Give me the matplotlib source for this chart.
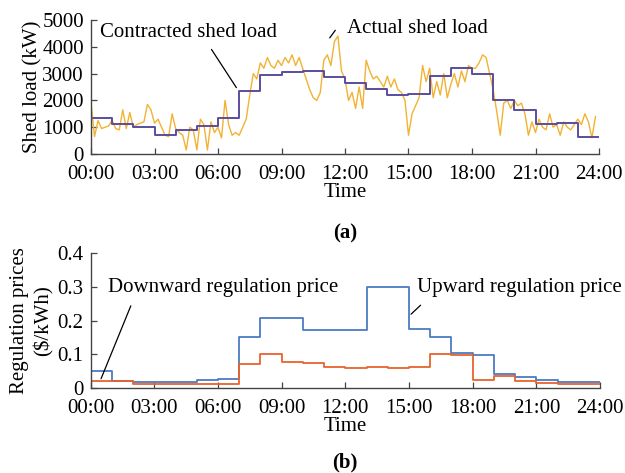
import matplotlib
matplotlib.use("Agg")
import matplotlib.pyplot as plt
import numpy as np

plt.rcParams["font.family"] = ["Liberation Serif", "DejaVu Serif"]

# ---------------------------------------------------------------------------
# Data
# ---------------------------------------------------------------------------
HOURS = list(range(25))
TICK_HOURS = [0, 3, 6, 9, 12, 15, 18, 21, 24]
TICK_LABELS = ["00:00", "03:00", "06:00", "09:00", "12:00",
               "15:00", "18:00", "21:00", "24:00"]

# hourly contracted shed load (kW)
contracted = [1330, 1120, 1000, 700, 880, 1060, 1330, 2360, 2960, 3060,
              3110, 2860, 2660, 2410, 2200, 2230, 2900, 3220, 3000, 2030,
              1650, 1120, 1170, 650]

# actual shed load, 10-minute samples (kW)
actual = [
    1900, 650, 1250, 950, 1000, 1050,
    1250, 950, 900, 1650, 950, 1550,
    1000, 1100, 1150, 1200, 1850, 1650,
    1150, 1300, 1000, 700, 650, 1500,
    950, 800, 700, 150, 1000, 900,
    150, 1300, 1100, 150, 1200, 800,
    1000, 600, 2000, 1100, 700, 800,
    700, 1000, 1300, 2200, 3000, 2800,
    3400, 3200, 3600, 3300, 3200, 3500,
    3300, 3600, 3400, 3700, 3300, 3600,
    3200, 2800, 2400, 2100, 2000, 2300,
    3500, 3700, 3300, 4200, 4400, 3100,
    2800, 2000, 2300, 1700, 2500, 1700,
    3500, 3100, 2800, 2900, 2700, 2500,
    2900, 2500, 2800, 2400, 2300, 2000,
    700, 1500, 1800, 2100, 3300, 2700,
    3200, 2100, 2700, 2200, 3000, 2100,
    2600, 3000, 2500, 3100, 2700, 3300,
    3200, 3200, 3400, 3700, 3600, 3000,
    2400, 1600, 700, 1900, 2000, 1700,
    2000, 1800, 1900, 1500, 700, 1200,
    800, 1300, 1000, 900, 1500, 1000,
    1100, 700, 1200, 1000, 900, 1100,
    1300, 1100, 1500, 1200, 600, 1400,
]
actual_t = np.arange(len(actual)) / 6.0

# hourly regulation prices ($/kWh)
upward = [0.05, 0.02, 0.019, 0.019, 0.019, 0.023, 0.027, 0.15, 0.207, 0.207,
          0.172, 0.172, 0.172, 0.30, 0.30, 0.174, 0.151, 0.104, 0.099, 0.042,
          0.032, 0.025, 0.019, 0.017]
downward = [0.02, 0.02, 0.012, 0.012, 0.012, 0.012, 0.013, 0.072, 0.10, 0.078,
            0.075, 0.062, 0.059, 0.062, 0.058, 0.063, 0.10, 0.097, 0.024, 0.037,
            0.022, 0.015, 0.013, 0.012]

C_PURPLE = "#5a4d9e"
C_YELLOW = "#f2b232"
C_BLUE = "#4b7bc4"
C_RED = "#e8622c"
FS = 15


def _style(ax):
    ax.spines["top"].set_visible(False)
    ax.spines["right"].set_visible(False)
    for s in ("left", "bottom"):
        ax.spines[s].set_color("#444444")
        ax.spines[s].set_linewidth(1.0)
    ax.tick_params(direction="in", length=4, width=0.9, colors="#444444",
                   labelcolor="black", labelsize=FS)
    ax.tick_params(axis="x", pad=8)
    ax.tick_params(axis="y", pad=5)
    ax.set_xlim(0, 24)
    ax.set_xticks(TICK_HOURS)
    ax.set_xticklabels(TICK_LABELS)


fig = plt.figure(figsize=(6.25, 4.73), dpi=100)
ax1 = fig.add_axes([0.1456, 0.6744, 0.8128, 0.2833])
ax2 = fig.add_axes([0.1451, 0.1797, 0.8149, 0.2854])

# --- (a) shed load ---------------------------------------------------------
ax1.plot(actual_t, actual, color=C_YELLOW, lw=1.0, zorder=2)
ax1.step(HOURS, contracted + [contracted[-1]], where="post",
         color=C_PURPLE, lw=1.4, zorder=3)
_style(ax1)
ax1.set_ylim(0, 5000)
ax1.set_yticks([0, 1000, 2000, 3000, 4000, 5000])
ax1.set_ylabel("Shed load (kW)", fontsize=FS, labelpad=0)
ax1.set_xlabel("Time", fontsize=FS, labelpad=-1)

ax1.annotate("", xy=(6.94, 2390), xytext=(5.62, 3990),
             arrowprops=dict(arrowstyle="-", color="black", lw=0.9))
ax1.text(0.43, 4520, "Contracted shed load", fontsize=FS, va="center", ha="left")
ax1.annotate("", xy=(11.2, 4250), xytext=(11.62, 4700),
             arrowprops=dict(arrowstyle="-", color="black", lw=0.9),
             annotation_clip=False)
ax1.text(12.09, 4700, "Actual shed load", fontsize=FS, va="center", ha="left",
         clip_on=False)

# --- (b) regulation prices ------------------------------------------------
ax2.step(HOURS, upward + [upward[-1]], where="post", color=C_BLUE, lw=1.3)
ax2.step(HOURS, downward + [downward[-1]], where="post", color=C_RED, lw=1.3)
_style(ax2)
ax2.set_ylim(0, 0.4)
ax2.set_yticks([0, 0.1, 0.2, 0.3, 0.4])
ax2.set_yticklabels(["0", "0.1", "0.2", "0.3", "0.4"])
ax2.set_ylabel("Regulation prices\n(\\$/kWh)", fontsize=FS, labelpad=3,
               linespacing=1.3)
ax2.set_xlabel("Time", fontsize=FS, labelpad=-1)

ax2.annotate("", xy=(0.44, 0.02), xytext=(1.94, 0.251),
             arrowprops=dict(arrowstyle="-", color="black", lw=0.9))
ax2.text(0.82, 0.297, "Downward regulation price", fontsize=FS,
         va="center", ha="left")
ax2.annotate("", xy=(15.0, 0.213), xytext=(15.64, 0.251),
             arrowprops=dict(arrowstyle="-", color="black", lw=0.9))
ax2.text(15.37, 0.297, "Upward regulation price", fontsize=FS,
         va="center", ha="left", clip_on=False)

fig.text(0.552, 0.507, "(a)", fontsize=FS, fontweight="bold",
         ha="center", va="center")
fig.text(0.552, 0.023, "(b)", fontsize=FS, fontweight="bold",
         ha="center", va="center")

fig.savefig("out.png", dpi=100)
